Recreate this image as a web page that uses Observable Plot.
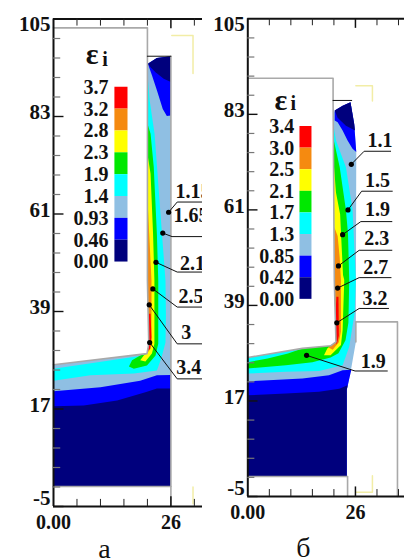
<!DOCTYPE html>
<html><head><meta charset="utf-8">
<script src="https://cdn.jsdelivr.net/npm/d3@7"></script>
<script src="https://cdn.jsdelivr.net/npm/@observablehq/plot@0.6"></script>
<style>
html,body{margin:0;padding:0;background:#fff;width:404px;height:560px;overflow:hidden}
#a,#b{position:absolute;top:0;width:202px;height:560px}
#a{left:0}#b{left:202px}
svg{overflow:hidden!important}
</style></head><body><div id="a"></div><div id="b"></div>
<script>
const bandColors = ["#ff0000","#f58a10","#ffff00","#00e800","#00ffff","#8fbfe3","#0000ff","#00007d"];
const minorX = [5.2,10.4,15.6,20.8,31.2,36.4];
const minorY = [100.6,96.2,91.8,87.4,78.6,74.2,69.8,65.4,56.6,52.2,47.8,43.4,34.6,30.2,25.8,21.4,12.6,8.2,3.8,-0.6];
const majorY = [83,61,39,17,-5];

// ---- panel а
const aLevels = ["3.7","3.2","2.8","2.3","1.9","1.4","0.93","0.46","0.00"];
const aBody = [[0,27],[20.7,29.5],[21.1,31.7],[20.8,46],[20.8,94.9],[22.9,96.2],[26,96.6],[26,-0.5],[0,-0.5]];
const aBlue = [[0,21],[10.4,21.9],[19.2,23.4],[22.9,24.6],[26,24.7],[26,-0.5],[0,-0.5]];
const aNavy = [[0,17.6],[6.7,17.8],[14.1,18.9],[20.35,20.8],[22.9,21.6],[26,21.6],[26,-0.5],[0,-0.5]];
const aCapBlue = [[20.9,94.9],[22.9,96.2],[26,96.6],[26,83.2],[25.1,83.1],[24.2,84.7],[22.9,88.9],[21.8,92.3]];
const aCapNavy = [[20.9,94.9],[22.9,96.2],[26,96.6],[26,90.8],[24.4,91.5],[22.6,93],[21.5,94.1]];
const aCyan = [[20.8,93],[21.3,86.6],[22.4,79],[23.7,61],[24.8,46],[24.9,38],[24.8,32],[23.9,28.5],[22.9,25.7],[17.8,25],[8.2,24.6],[0,23.4],[0,26.1],[20.7,29.2],[21.1,31.7],[20.8,46]];
const aGreen = [[20.8,81.4],[21.5,79.1],[22.2,71.6],[22.9,56.5],[23.2,46],[23.2,31.7],[22.6,29.1],[20.7,26.8],[17.8,26.1],[16.7,26.6],[17.4,28],[19.2,29.1],[20.7,29.6],[21.1,31.7],[20.8,46]];
const aYellow = [[20.8,74.6],[21.5,70.1],[22.05,56.5],[22.35,46],[22.35,31.7],[21.8,29.5],[20.35,27.7],[19.2,28],[20,29.1],[20.7,29.6],[21.1,31.7],[20.8,46]];
const aOrange = [[20.8,64.8],[21.2,56.5],[21.7,46],[21.7,32.5],[21.5,30.6],[20.7,29.5],[21.1,31.7],[20.8,46]];
const aRed = [[21.1,38.5],[21.5,38.5],[21.7,33.2],[21.4,30.6],[21,30.2],[21.1,31.7]];
const aGray = [[[0,103],[20.8,103],[20.8,96.6]],[[20.8,96.6],[20.8,46],[21.1,31.7],[20.7,29.5],[0,27]],[[26,96.6],[26,-5]],[[0,-0.5],[26,-0.5]]];
const aTop = [[[20.8,96.6],[26,96.6]]];
const aPale = [[[26.2,101.3],[30.9,101.3],[30.9,92.7]],[[30.9,-0.6],[30.9,-4.4]]];
const aLeaders = [
  [[25.5,61.4],[27.4,63.7],[33,63.7]],
  [[24.2,56.7],[26.25,55.9],[33,55.9]],
  [[22.7,50.1],[27.4,47.9],[33,47.9]],
  [[22,44.1],[27.4,40],[33,40]],
  [[21.2,40.5],[27.4,31.7],[33,31.7]],
  [[21.3,32],[27.4,23.8],[33,23.8]]];
const aLeaderText = ["1.15","1.65","2.1","2.5","3","3.4"];
const aLeaderTextX = [27,26.6,28,27.7,28.3,27.2];
const aLeaderTextY = [66,60.6,49.8,42.4,34.3,26.3];

// ---- panel б
const bLevels = ["3.4","3.0","2.5","2.1","1.7","1.3","0.85","0.42","0.00"];
const bBody = [[0,27],[13.2,29.1],[20,29.7],[21.3,30.6],[21.1,37.2],[20.9,44.85],[20.6,82.9],[21,83.9],[24.8,85.8],[25.7,80.8],[26.2,74.3],[26.1,35.2],[26.1,30.6],[24.9,24.1],[23.9,19.5],[23.9,-0.4],[0,-0.4]];
const bBlue = [[0,21.5],[13.2,22.2],[19.6,22.9],[22.9,24.1],[25,24.2],[23.9,19.5],[23.9,-0.4],[0,-0.4]];
const bNavy = [[0,18.3],[9.2,18.7],[17.2,19.1],[22.1,19.8],[24.1,20.6],[23.9,19.5],[23.9,-0.4],[0,-0.4]];
const bCapBlue = [[21,83.9],[22.9,85],[24.8,85.8],[25.7,80.8],[26.2,74.3],[25.3,75.1],[24.1,77],[22.9,79.3],[21.7,81.2],[21,81.6]];
const bCapNavy = [[21,83.9],[22.9,85],[24.8,85.8],[25.7,80.8],[25.9,79.3],[23.7,80.4],[21.7,82.2]];
const bCyan = [[20.6,81],[21.3,77],[23.7,70.8],[25.3,61.1],[26.1,44.85],[25.8,37.2],[24.5,29.5],[22.9,25.2],[17.2,23.9],[9.2,23.7],[0,23.3],[0,27],[13.2,29.1],[20,29.7],[21.3,30.6],[21.1,37.2],[20.9,44.85]];
const bGreen = [[20.6,77.8],[22.2,70.8],[23.7,61],[24.2,55.5],[24.5,44.85],[24.3,35],[23.6,31],[21.9,28],[20,27],[17.2,26.3],[15.6,25.9],[9.2,25.2],[0,24.5],[0,25.9],[4.8,26.8],[9.7,27.9],[13.2,29.1],[20,29.7],[21.3,30.6],[21.1,37.2],[20.9,44.85]];
const bYellow = [[20.7,72.4],[21.3,65],[22.3,60],[23,46],[23.3,44.85],[22.9,33.3],[22.5,29.9],[20,27.5],[18.4,27.5],[19.2,29.1],[20,29.7],[21.3,30.6],[21.1,37.2],[20.9,44.85]];
const bOrange = [[20.9,57],[21.7,55],[22.2,50],[22.5,44.85],[22.5,33],[22,30.5],[20.5,28.8],[19.5,29.3],[20,29.7],[21.3,30.6],[21.1,37.2],[20.9,44.85]];
const bRed = [[21.4,41],[21.9,41],[22,32],[21.5,30],[21.3,30.6],[21.2,37.2]];
const bGray = [[[0,91.3],[20.6,91.3],[20.6,86.2]],[[20.6,86.2],[20.9,44.85],[21.1,37.2],[21.3,30.6],[20,29.7],[13.2,29.1],[0,27]],[[26.1,35.2],[36.15,35.2],[36.15,-5]],[[26.1,35.2],[26.1,30.6]],[[0,-0.4],[24,-0.4]],[[24.1,-0.4],[24.1,-5]]];
const bTop = [[[20.6,86.2],[25.1,86.2]]];
const bPale = [[[26.1,89.6],[30.1,89.6],[30.1,86.1]],[[26.1,-4],[30.1,-4],[30.1,-0.2]]];
const bLeaders = [
  [[25,71.5],[28.1,74.5],[34.5,74.5]],
  [[24.2,61],[27.5,65.3],[34.9,65.3]],
  [[22.9,55.3],[27.3,58.3],[34.8,58.3]],
  [[21.9,48.1],[26.9,51.7],[34.8,51.7]],
  [[21.7,43],[26.9,45.4],[34.6,45.4]],
  [[21.5,35],[26.9,38.3],[34,38.3]],
  [[14.2,27.5],[25.9,23.9],[33.7,23.9]]];
const bLeaderText = ["1.1","1.5","1.9","2.3","2.7","3.2","1.9"];
const bLeaderTextX = [28.9,28.3,28.3,28.1,27.9,27.7,27.3];
const bLeaderTextY = [77,67.8,61,54.3,47.8,40.6,26];

const serif = "Liberation Serif";
const X = d => d[0], Y = d => d[1];
function panel(p){
  const fills = p.fills.map(([pts,c]) => Plot.line(pts,{x:X,y:Y,fill:c,stroke:"none",curve:"linear-closed"}));
  const polyl = (sets,color,w) => sets.map(s => Plot.line(s,{x:X,y:Y,stroke:color,strokeWidth:w}));
  const bar = bandColors.map((c,i)=>Plot.rectY([i],{
    x1:p.barX[0],x2:p.barX[1],
    y1:p.barTop-i*p.barStep,y2:p.barTop-(i+1)*p.barStep,fill:c,inset:0}));
  const txt = (d,o)=>Plot.text(d,{fontFamily:serif,fontWeight:"bold",fontSize:20,fill:"#111",...o});
  const ax = {tickSize:0,tickPadding:p.padY,tickFormat:String,fontFamily:serif,fontWeight:"bold",fontSize:21,label:null,fill:"#111"};
  return Plot.plot({
    width:202,height:560,marginLeft:p.m[0],marginRight:0,marginTop:p.m[1],marginBottom:p.m[2],
    x:{domain:[0,p.xMax]},y:{domain:[-5,105]},
    style:{background:"transparent",overflow:"hidden"},
    marks:[
      ...polyl(p.pale,"#f2eda6",1.5),
      ...fills,
      ...polyl(p.gray,"#a9a9a9",1.6),
      ...polyl(p.top,"#111",1),
      // frame
      Plot.ruleX([0],{y1:-5,y2:105,stroke:"#111",strokeWidth:2}),
      Plot.ruleY([105,-5],{x1:0,x2:p.xMax,stroke:"#111",strokeWidth:2}),
      Plot.ruleY(minorY,{x1:0,x2:p.tkY,stroke:"#777",strokeWidth:1.2}),
      Plot.ruleY(majorY,{x1:0,x2:p.tkY*1.45,stroke:"#111",strokeWidth:1.4}),
      Plot.ruleX(minorX,{y1:105,y2:103.4,stroke:"#222"}),
      Plot.ruleX([26],{y1:105,y2:102.8,stroke:"#111",strokeWidth:1.5}),
      Plot.ruleX(minorX,{y1:-5,y2:-3.4,stroke:"#222"}),
      Plot.ruleX([26],{y1:-5,y2:-2.8,stroke:"#111",strokeWidth:1.5}),
      // axis labels
      Plot.axisY([83,61,39,17],{...ax,dy:-4}),
      Plot.axisY([-5],{...ax,dy:-8}),
      Plot.axisY([105],{...ax,dy:5}),
      Plot.axisX([0,26],{...ax,tickPadding:3,dy:5,tickFormat:d=>d?"26":"0.00",fontSize:20}),
      // legend
      ...bar,
      txt(p.levels,{x:p.lvlX,y:(d,i)=>p.barTop-i*p.barStep,textAnchor:"end",text:d=>d}),
      txt(["ε"],{x:p.eps[0],y:p.eps[1],fontSize:30,text:d=>d}),
      txt(["i"],{x:p.eps[2],y:p.eps[3],fontSize:20,text:d=>d}),
      // leaders
      ...p.leaders.map(l=>Plot.line(l,{x:X,y:Y,stroke:"#111",strokeWidth:1})),
      Plot.dot(p.leaders.map(l=>l[0]),{x:X,y:Y,r:2.6,fill:"#000"}),
      txt(p.ltext,{x:(d,i)=>p.ltx[i],y:(d,i)=>p.lty[i],textAnchor:"start",text:d=>d}),
      // caption
      Plot.text([p.cap],{x:p.capX,y:p.capY,text:d=>d,fontFamily:serif,fontSize:28,fill:"#111"})
    ]
  });
}
document.getElementById("a").append(panel({
  m:[53,18.5,54],xMax:33,padY:3,tkY:1.6,
  fills:[[aBody,bandColors[5]],[aBlue,bandColors[6]],[aNavy,bandColors[7]],[aCapBlue,bandColors[6]],[aCapNavy,bandColors[7]],[aCyan,bandColors[4]],[aGreen,bandColors[3]],[aYellow,bandColors[2]],[aOrange,bandColors[1]],[aRed,bandColors[0]]],
  gray:aGray,top:aTop,pale:aPale,leaders:aLeaders,ltext:aLeaderText,ltx:aLeaderTextX,lty:aLeaderTextY,
  levels:aLevels,barX:[13.6,16.5],barTop:89.6,barStep:4.93,lvlX:12.2,eps:[8.55,97.1,11.4,95.8],cap:"а",capX:11.3,capY:-14.5
}));
document.getElementById("b").append(panel({
  m:[45.3,18.3,64],xMax:37.85,padY:3,tkY:1.7,
  fills:[[bBody,bandColors[5]],[bBlue,bandColors[6]],[bNavy,bandColors[7]],[bCapBlue,bandColors[6]],[bCapNavy,bandColors[7]],[bCyan,bandColors[4]],[bGreen,bandColors[3]],[bYellow,bandColors[2]],[bOrange,bandColors[1]],[bRed,bandColors[0]]],
  gray:bGray,top:bTop,pale:bPale,leaders:bLeaders,ltext:bLeaderText,ltx:bLeaderTextX,lty:bLeaderTextY,
  levels:bLevels,barX:[12.6,15.5],barTop:80.2,barStep:4.975,lvlX:11.2,eps:[8,86.2,11,85.4],cap:"б",capX:13.4,capY:-16.8
}));
</script></body></html>
